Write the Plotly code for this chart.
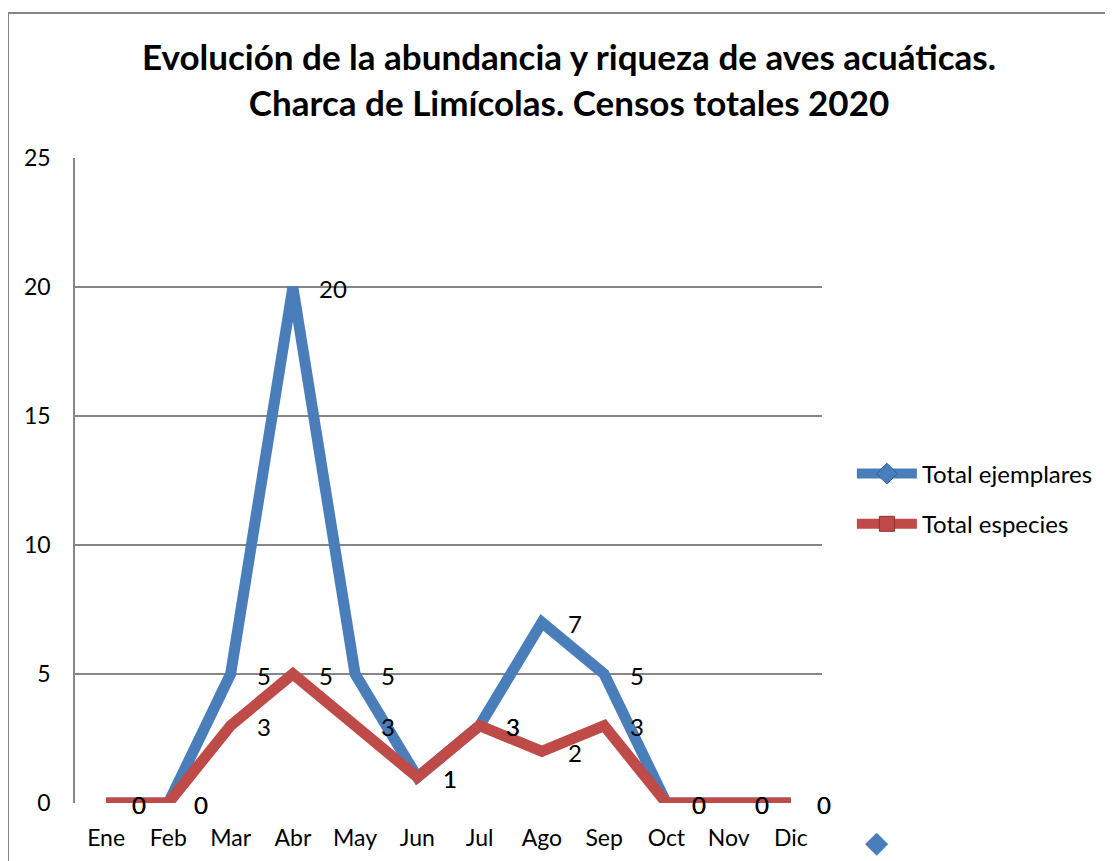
import plotly.graph_objects as go

MONTHS = ["Ene", "Feb", "Mar", "Abr", "May", "Jun", "Jul", "Ago", "Sep", "Oct", "Nov", "Dic"]
EJEMPLARES = [0, 0, 5, 20, 5, 1, 3, 7, 5, 0, 0, 0]
ESPECIES = [0, 0, 3, 5, 3, 1, 3, 2, 3, 0, 0, 0]
Y_TICKS = [0, 5, 10, 15, 20, 25]

BLUE = "#4a7ebb"
RED = "#be4b48"
GRID = "#868686"
FONT = "Lato"

# plot area in figure pixels (page has an 8px body margin)
L, T, R, B = 67, 150, 814, 795
PW, PH = R - L, B - T

fig = go.Figure()
fig.add_trace(go.Scatter(x=MONTHS, y=EJEMPLARES, mode="lines", showlegend=False,
                         line=dict(color=BLUE, width=11)))
fig.add_trace(go.Scatter(x=MONTHS, y=ESPECIES, mode="lines", showlegend=False,
                         line=dict(color=RED, width=11)))

# legend entries with line + marker symbol
fig.add_trace(go.Scatter(x=[None], y=[None], name="Total ejemplares", mode="lines+markers",
                         legendgroup="a", line=dict(color=BLUE, width=10),
                         marker=dict(symbol="diamond", size=18, color=BLUE,
                                     line=dict(color="#2f5f99", width=1))))
fig.add_trace(go.Scatter(x=[None], y=[None], name="Total especies", mode="lines+markers",
                         legendgroup="b", line=dict(color=RED, width=10),
                         marker=dict(symbol="square", size=15, color=RED,
                                     line=dict(color="#8c2f2c", width=1))))

# data labels to the right of each point
for series in (EJEMPLARES, ESPECIES):
    for m, v in zip(MONTHS, series):
        fig.add_annotation(x=m, y=v, text=str(v), showarrow=False, xanchor="left",
                           yanchor="middle", xshift=24, yshift=-1,
                           font=dict(family=FONT, size=24, color="black"))

# stray legend marker at the bottom
fig.add_annotation(xref="paper", yref="paper", x=(882 - L) / PW, y=(B - 852) / PH,
                   text="◆", showarrow=False, font=dict(size=30, color=BLUE))

# outer chart frame (partly cut off)
fig.add_shape(type="rect", xref="paper", yref="paper",
              x0=(0 - L) / PW, x1=1.6, y0=-0.3, y1=(B - 5) / PH,
              line=dict(color=GRID, width=2))

fig.update_layout(
    width=1113, height=861,
    paper_bgcolor="white", plot_bgcolor="white",
    margin=dict(l=L, r=1113 - R, t=T, b=861 - B),
    title=dict(
        text="Evolución de la abundancia y riqueza de aves acuáticas.<br>Charca de Limícolas. Censos totales 2020",
        x=561 / 1113, xanchor="center", y=1 - 62 / 861, yanchor="middle",
        font=dict(family=FONT, size=35, color="black", weight="bold"),
    ),
    font=dict(family=FONT, size=23, color="black"),
    showlegend=True,
    legend=dict(x=1.04, y=(B - 491) / PH, xanchor="left", yanchor="middle",
                font=dict(family=FONT, size=24), tracegroupgap=16, itemwidth=60),
    xaxis=dict(showgrid=False, showline=False, ticks="", ticklabelstandoff=19,
               range=[-0.5, 11.5], fixedrange=True),
    yaxis=dict(range=[0, 25], tickvals=Y_TICKS, showgrid=True, gridcolor=GRID, gridwidth=1.5,
               showline=True, linecolor=GRID, linewidth=1.5, zeroline=False,
               ticks="", ticklabelstandoff=18),
)

fig.write_html("out.html")
